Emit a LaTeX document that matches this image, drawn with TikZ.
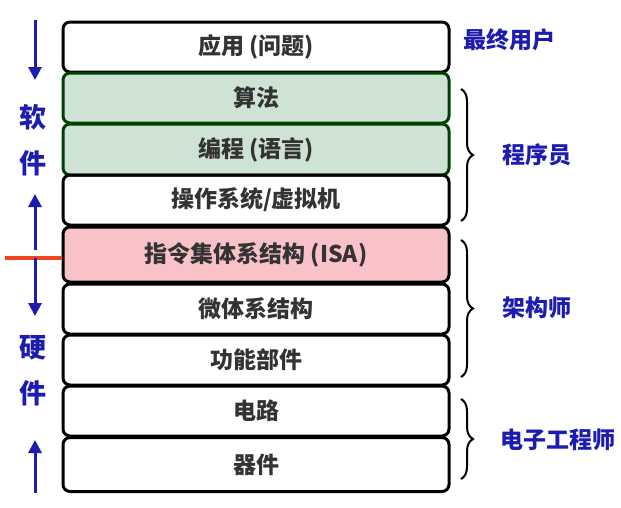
\documentclass[tikz,border=0pt]{standalone}
\usepackage{fontspec}
\newfontfamily\cjk{Noto Sans CJK SC}
\usetikzlibrary{decorations.pathreplacing,arrows.meta}
\definecolor{layergreen}{HTML}{CFE3D4}
\definecolor{layerpink}{HTML}{F8C2C8}
\definecolor{rolblue}{HTML}{1C1CB0}
\definecolor{cutred}{HTML}{EE4422}

\begin{document}
\begin{tikzpicture}[x=1pt,y=-1pt,>={Triangle[length=13pt,width=13pt]},
  layer/.style={draw,line width=3pt,rounded corners=7pt,minimum width=386pt,
    font=\cjk\bfseries\fontsize{23}{26}\selectfont,text=black!80},
  role/.style={font=\cjk\bfseries\fontsize{23}{26}\selectfont,text=rolblue},
  side/.style={font=\cjk\bfseries\fontsize{27}{30}\selectfont,text=rolblue},
  updown/.style={->,line width=3pt,draw=rolblue},
  brc/.style={decorate,decoration={brace,amplitude=12pt},line width=2pt}]
  \useasboundingbox (0,0) rectangle (621,507);
  % layers
  \node[layer,minimum height=50pt] (app) at (256,47) {应用 (问题)};
  \node[layer,minimum height=50pt,fill=layergreen,draw=black!75!green] (alg) at (256,98) {算法};
  \node[layer,minimum height=51pt,fill=layergreen,draw=black!75!green] (prog) at (256,149.5) {编程 (语言)};
  \node[layer,minimum height=50pt] (os) at (256,200) {操作系统/虚拟机};
  \node[layer,minimum height=55pt,fill=layerpink] (isa) at (256,254.5) {指令集体系结构 (ISA)};
  \node[layer,minimum height=50pt] (uarch) at (256,309) {微体系结构};
  \node[layer,minimum height=50pt] (func) at (256,360) {功能部件};
  \node[layer,minimum height=50pt] (circ) at (256,411) {电路};
  \node[layer,minimum height=54pt] (dev) at (256,464.5) {器件};
  % left side
  \node[side] (sw1) at (33,117) {软};
  \node[side] (sw2) at (33,163) {件};
  \node[side] (hw1) at (33,348) {硬};
  \node[side] (hw2) at (33,393) {件};
  \coordinate (cut) at (5,258);
  \draw[line width=4.5pt,draw=cutred] (cut) -- (isa.west |- cut);
  \draw[updown] (35,20) -- (35,80);
  \draw[updown] (35,250) -- (35,194);
  \draw[updown] (35,258) -- (35,316);
  \draw[updown] (35,493) -- (35,440);
  % right side
  \node[role] (user) at (509,40) {最终用户};
  \node[role] (coder) at (537,155) {程序员};
  \node[role] (arch) at (537,308) {架构师};
  \node[role] (ee) at (558,440) {电子工程师};
  \draw[brc] (461,89) -- (461,221);
  \draw[brc] (461,240) -- (461,377);
  \draw[brc] (461,399) -- (461,479);
\end{tikzpicture}
\end{document}
